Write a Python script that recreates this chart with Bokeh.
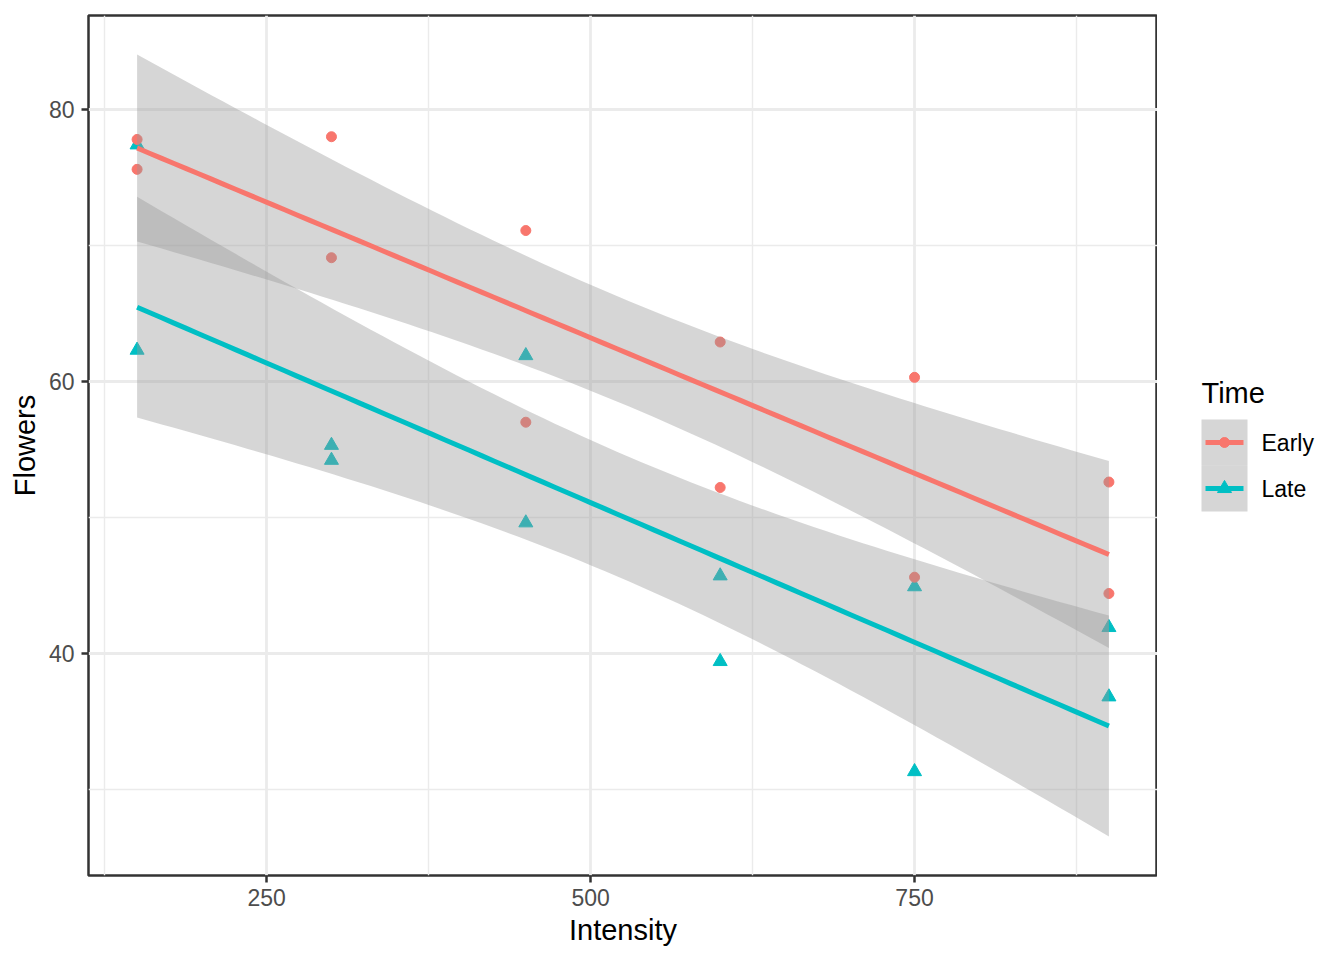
import numpy as np
from bokeh.plotting import figure
from bokeh.layouts import row
from bokeh.models import Range1d, FixedTicker
from bokeh.core.properties import value
from bokeh.embed import file_html
from bokeh.resources import INLINE

# ---- data ----
intensity = [150, 150, 300, 300, 450, 450, 600, 600, 750, 750, 900, 900]
flowers_late = [62.3, 77.4, 55.3, 54.2, 49.6, 61.9, 39.4, 45.7, 31.3, 44.9, 36.8, 41.9]
flowers_early = [77.8, 75.6, 69.1, 78.0, 57.0, 71.1, 62.9, 52.2, 60.3, 45.6, 52.6, 44.4]
groups = ["Early", "Late"]
group_colors = ["#F8766D", "#00BFC4"]
group_markers = ["circle", "triangle"]
group_sizes = [10, 14]
legend_title = "Time"
x_ticks = [250, 500, 750]
x_minor = [125, 375, 625, 875]
y_ticks = [40, 60, 80]
y_minor = [30, 50, 70]
T_975_DF10 = 2.228139  # t quantile for 95% CI, df = 10


def lm_band(x, y, n=80, t=T_975_DF10):
    x = np.asarray(x, float)
    y = np.asarray(y, float)
    b1, b0 = np.polyfit(x, y, 1)
    res = y - (b0 + b1 * x)
    df = len(x) - 2
    s = np.sqrt((res ** 2).sum() / df)
    xs = np.linspace(x.min(), x.max(), n)
    se = s * np.sqrt(1 / len(x) + (xs - x.mean()) ** 2 / ((x - x.mean()) ** 2).sum())
    yh = b0 + b1 * xs
    return xs, yh, yh - t * se, yh + t * se


fits = {"Early": lm_band(intensity, flowers_early), "Late": lm_band(intensity, flowers_late)}
ydata = {"Early": flowers_early, "Late": flowers_late}

lo = min(min(fits[g][2].min() for g in groups), min(flowers_early + flowers_late))
hi = max(max(fits[g][3].max() for g in groups), max(flowers_early + flowers_late))
pad = (hi - lo) * 0.05
xmin, xmax = min(intensity), max(intensity)
xpad = (xmax - xmin) * 0.05

FONT = "Liberation Sans"
FRAME_W, FRAME_H = 1069, 860
BORDER_L, BORDER_T, BORDER_B = 88, 15, 85

p = figure(title=None, frame_width=FRAME_W, frame_height=FRAME_H,
           min_border_left=BORDER_L, min_border_top=BORDER_T, min_border_right=0,
           min_border_bottom=BORDER_B,
           x_range=Range1d(xmin - xpad, xmax + xpad), y_range=Range1d(lo - pad, hi + pad),
           output_backend="svg", toolbar_location=None)

p.background_fill_color = "white"
p.border_fill_color = "white"
p.outline_line_color = "#333333"
p.outline_line_width = 2.5

for ax, ticks, minor, lab in [(p.xaxis[0], x_ticks, x_minor, "Intensity"),
                              (p.yaxis[0], y_ticks, y_minor, "Flowers")]:
    ax.ticker = FixedTicker(ticks=ticks, minor_ticks=minor)
    ax.axis_label = lab
    ax.axis_label_text_font = FONT
    ax.axis_label_text_font_size = "29px"
    ax.axis_label_text_font_style = "normal"
    ax.axis_label_text_color = "black"
    ax.major_label_text_font = FONT
    ax.major_label_text_font_size = "23px"
    ax.major_label_text_color = "#4D4D4D"
    ax.axis_line_color = None
    ax.major_tick_line_color = "#333333"
    ax.major_tick_line_width = 2.5
    ax.major_tick_in = 0
    ax.major_tick_out = 7
    ax.minor_tick_line_color = None

p.xaxis[0].major_label_standoff = 6
p.xaxis[0].axis_label_standoff = 5
p.yaxis[0].major_label_standoff = 7
p.yaxis[0].axis_label_standoff = 5

for g in (p.xgrid[0], p.ygrid[0]):
    g.grid_line_color = "#EBEBEB"
    g.grid_line_width = 2.8
    g.minor_grid_line_color = "#EBEBEB"
    g.minor_grid_line_width = 1.4

# points (Late rows first, then Early, as in the data order)
for gname in ["Late", "Early"]:
    i = groups.index(gname)
    p.scatter(intensity, ydata[gname], marker=group_markers[i], size=group_sizes[i],
              fill_color=group_colors[i], line_color=group_colors[i])

for i, gname in enumerate(groups):
    xs, yh, ylo, yhi = fits[gname]
    p.varea(x=xs, y1=ylo, y2=yhi, fill_color="#999999", fill_alpha=0.4)
    p.line(xs, yh, line_color=group_colors[i], line_width=5)

# ---- legend panel: a narrow figure in pixel coordinates to the right ----
LEG_W = 1344 - (BORDER_L + FRAME_W)
LEG_H = BORDER_T + FRAME_H + BORDER_B
lf = figure(title=None, frame_width=LEG_W, frame_height=LEG_H, min_border=0,
            x_axis_location=None, y_axis_location=None,
            x_range=Range1d(0, LEG_W), y_range=Range1d(LEG_H, 0),
            output_backend="svg", toolbar_location=None)
lf.grid.visible = False
lf.outline_line_color = None
lf.background_fill_color = "white"
lf.border_fill_color = "white"

KEY_X0, KEY_W, KEY_H, KEY_Y0 = 44, 46, 46, 404
TITLE_Y = 377
key_tops = [KEY_Y0 + KEY_H * i for i in range(len(groups))]
key_mid = [t + KEY_H / 2 for t in key_tops]

lf.quad(left=KEY_X0, right=KEY_X0 + KEY_W, top=key_tops,
        bottom=[t + KEY_H for t in key_tops],
        fill_color="#999999", fill_alpha=0.4, line_color=None)
for i, gname in enumerate(groups):
    lf.line([KEY_X0 + 4, KEY_X0 + KEY_W - 4], [key_mid[i]] * 2,
            line_color=group_colors[i], line_width=5)
    lf.scatter([KEY_X0 + KEY_W / 2], [key_mid[i]], marker=group_markers[i],
               size=group_sizes[i], fill_color=group_colors[i], line_color=group_colors[i])

lf.text(x=[KEY_X0 + KEY_W + 14] * len(groups), y=key_mid, text=groups,
        text_font=value(FONT), text_font_size="23px", text_color="black",
        text_baseline="middle", text_align="left")
lf.text(x=[KEY_X0], y=[TITLE_Y], text=[legend_title],
        text_font=value(FONT), text_font_size="29px", text_color="black",
        text_baseline="alphabetic", text_align="left")

layout = row(p, lf)
open("out.html", "w").write(file_html(layout, INLINE))
